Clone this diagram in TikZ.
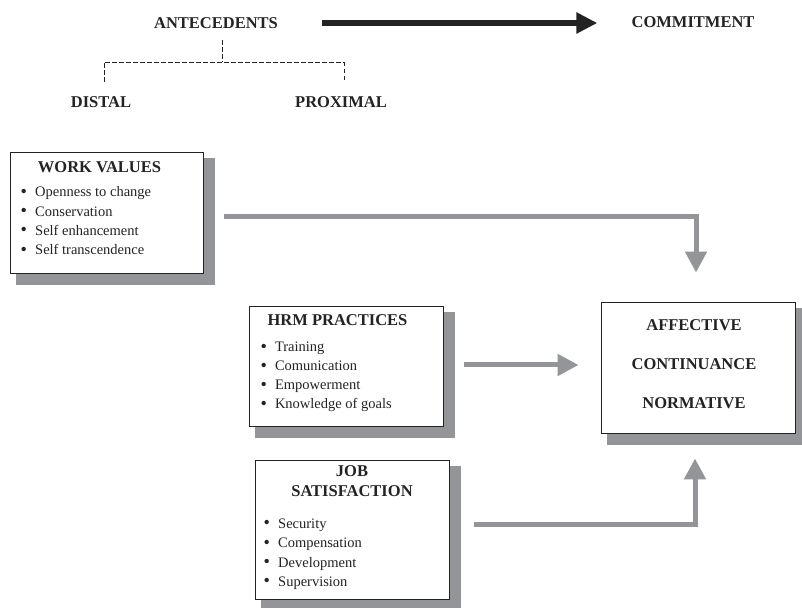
\documentclass[tikz,border=0pt]{standalone}
\usepackage{fontspec}
\setmainfont{Liberation Serif}
\usetikzlibrary{arrows.meta,backgrounds}

\definecolor{shadowgray}{RGB}{148,149,153}
\definecolor{inkgray}{RGB}{35,35,35}

\tikzset{
  heading/.style={inner sep=0pt, anchor=base, text=inkgray,
    font=\fontsize{16.5}{20}\selectfont\bfseries},
  bulletline/.style={inner sep=0pt, anchor=base west, text=inkgray,
    font=\fontsize{14.5}{16}\selectfont},
  factorbox/.style={draw=inkgray, line width=0.9pt, fill=white, inner sep=0pt,
    minimum width=194pt},
  flowarrow/.style={draw=shadowgray, line width=5pt,
    -{Triangle[width=21pt,length=21pt]}},
  mainarrow/.style={draw=inkgray, line width=5.3pt,
    -{Triangle[width=20pt,length=21pt]}},
  treeline/.style={draw=inkgray, line width=0.9pt, dash pattern=on 4.5pt off 2.5pt},
}
\newcommand{\dotmark}{\makebox[14.5pt][l]{\raisebox{-0.4pt}{\scalebox{1.25}{\textbullet}}}}

\begin{document}
\begin{tikzpicture}[x=1pt, y=1pt]
    \useasboundingbox (0,0) rectangle (802,607);

    % top row
    \node[heading] (ante) at (216, 578.6) {ANTECEDENTS};
    \node[heading] (commit) at (693, 579.6) {COMMITMENT};
    \node[heading] (distal) at (101, 499.6) {DISTAL};
    \node[heading] (proximal) at (341, 499.6) {PROXIMAL};

    \draw[mainarrow] ([xshift=44pt]ante.east) -- ([xshift=-34pt]ante.east -| commit.west);
    \draw[treeline] ([xshift=6pt,yshift=-11.5pt]ante.south) -- ++(0,-22) coordinate (fork);
    \draw[treeline] ([xshift=3pt,yshift=14.5pt]distal.north) |- (fork)
        -| ([xshift=3pt,yshift=14.5pt]proximal.north);

    % boxes
    \node[factorbox, minimum width=193pt, minimum height=121pt] (wv) at (106.5, 394.5) {};
    \node[factorbox, minimum height=120pt] (hrm) at (346, 241) {};
    \node[factorbox, minimum height=139pt] (job) at (352, 77.5) {};
    \node[factorbox, minimum height=131pt] (outcome) at (698, 239.5) {};

    \begin{scope}[on background layer]
        \foreach \b in {wv, hrm, job, outcome}
            \fill[shadowgray] ([shift={(6pt,-12pt)}]\b.south west)
                rectangle ([shift={(12pt,-6pt)}]\b.north east);
    \end{scope}

    % work values
    \node[heading] (wvtitle) at (99.5, 434.7) {WORK VALUES};
    \foreach \entry [count=\i] in {Openness to change, Conservation,
        Self enhancement, Self transcendence}
        \node[bulletline] (wv-\i) at (20.5, 429.3-19.3*\i) {\dotmark\entry};

    % hrm practices
    \node[heading] (hrmtitle) at (337.5, 281.7) {HRM PRACTICES};
    \foreach \entry [count=\i] in {Training, Comunication, Empowerment,
        Knowledge of goals}
        \node[bulletline] (hrm-\i) at (260.3, 274.2-19*\i) {\dotmark\entry};

    % job satisfaction
    \node[heading, anchor=north, align=center] (jobtitle) at (352, 142)
        {JOB\\SATISFACTION};
    \foreach \entry [count=\i] in {Security, Compensation, Development,
        Supervision}
        \node[bulletline] (job-\i) at (263.5, 97.8-19.3*\i) {\dotmark\entry};

    % commitment components
    \foreach \entry [count=\i] in {AFFECTIVE, CONTINUANCE, NORMATIVE}
        \node[heading] (out-\i) at (694, 315.7-39*\i) {\entry};

    \draw[flowarrow] ([xshift=21pt,yshift=-4.5pt]wv.east)
        -| ([xshift=-2pt,yshift=29pt]outcome.north);
    \draw[flowarrow] ([xshift=21pt,yshift=1pt]hrm.east)
        -- ([xshift=-22pt,yshift=1pt]hrm.east -| outcome.west);
    \draw[flowarrow] ([xshift=25pt,yshift=4.5pt]job.east)
        -| ([xshift=-3pt,yshift=-25pt]outcome.south);
\end{tikzpicture}
\end{document}
